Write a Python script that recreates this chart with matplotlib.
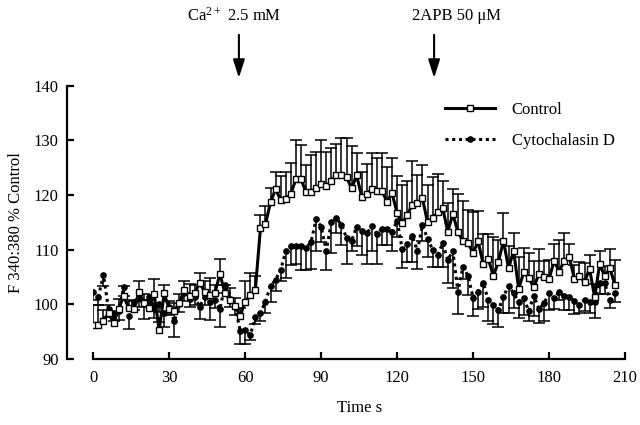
import matplotlib
matplotlib.use('Agg')
import matplotlib.pyplot as plt
import numpy as np
from matplotlib.lines import Line2D

plt.rcParams['font.family'] = ['Liberation Serif', 'DejaVu Serif']
plt.rcParams['mathtext.fontset'] = 'custom'
plt.rcParams['mathtext.rm'] = 'Liberation Serif'
plt.rcParams['mathtext.default'] = 'regular'

# time axis, one sample every 2 s
time_s = np.arange(0, 208, 2)

control = [96.3, 96.3, 97.0, 98.4, 96.6, 99.1, 101.6, 99.3, 99.1, 102.2,
           100.3, 99.3, 101.9, 95.3, 102.0, 99.1, 98.8, 100.3, 102.7, 101.5,
           102.0, 103.9, 102.3, 101.7, 102.0, 105.6, 102.0, 100.8, 99.7, 97.9,
           100.5, 101.7, 102.7, 113.9, 114.7, 118.7, 121.1, 119.1, 119.3, 120.2,
           122.9, 122.9, 120.6, 120.6, 121.2, 122.0, 121.6, 122.6, 123.7, 123.7,
           123.3, 121.2, 123.6, 119.7, 120.2, 121.1, 120.7, 120.7, 118.8, 120.3,
           116.7, 114.8, 116.4, 118.2, 118.5, 119.4, 115.0, 115.8, 116.8, 117.6,
           113.3, 116.5, 113.3, 111.5, 111.2, 109.4, 111.5, 107.3, 108.3, 105.2,
           107.8, 111.6, 106.6, 109.8, 102.8, 105.9, 104.8, 103.1, 105.6, 105.0,
           104.6, 108.0, 106.0, 108.0, 108.6, 104.7, 105.2, 104.1, 106.5, 101.3,
           107.4, 105.1, 106.6, 103.6]
control_err = [3.6, 3.5, 2.0, 1.5, 2.0, 1.9, 1.8, 1.5, 1.5, 2.0,
               1.5, 1.5, 2.8, 1.5, 1.6, 1.5, 1.5, 1.5, 1.5, 2.2,
               1.5, 1.9, 2.0, 3.2, 1.5, 2.7, 1.5, 2.2, 1.5, 1.5,
               3.8, 4.1, 2.5, 2.5, 3.3, 2.5, 3.2, 4.4, 4.9, 5.6,
               7.2, 6.3, 4.8, 6.7, 6.7, 8.1, 6.3, 6.0, 5.6, 6.8,
               7.1, 7.8, 4.0, 4.5, 5.4, 6.5, 6.0, 6.9, 6.4, 6.5,
               6.7, 7.0, 6.1, 8.0, 5.2, 6.0, 6.8, 7.5, 7.1, 4.9,
               5.2, 4.6, 6.9, 7.4, 6.0, 7.4, 5.5, 5.6, 4.6, 7.2,
               4.0, 5.1, 4.0, 3.3, 5.8, 4.4, 4.5, 4.9, 4.5, 3.0,
               3.5, 3.0, 5.7, 5.1, 2.5, 2.5, 2.5, 3.5, 2.6, 2.5,
               2.4, 2.0, 3.5, 4.5]

cytochalasin = [102.3, 101.4, 105.4, 99.1, 98.4, 98.7, 103.1, 97.8, 100.5, 101.1,
                100.0, 101.4, 99.5, 100.1, 98.4, 99.5, 96.9, 100.1, 102.1, 101.0,
                101.3, 99.6, 101.3, 100.5, 100.8, 99.1, 103.6, 101.0, 99.6, 95.2,
                95.3, 94.4, 97.6, 98.5, 100.5, 103.4, 104.5, 106.3, 109.7, 110.6,
                110.6, 110.6, 110.3, 111.4, 115.6, 114.2, 109.8, 115.0, 115.8, 114.5,
                112.2, 111.6, 114.2, 113.4, 113.0, 114.3, 112.9, 113.8, 113.8, 113.3,
                115.3, 110.1, 111.1, 112.5, 109.8, 114.5, 112.0, 110.0, 109.0, 111.2,
                108.1, 109.8, 102.3, 106.9, 105.2, 101.2, 102.3, 103.9, 100.8, 99.9,
                99.0, 101.4, 103.4, 102.0, 100.5, 101.1, 98.8, 101.6, 99.1, 100.2,
                102.0, 101.1, 102.3, 101.5, 101.4, 100.6, 99.9, 100.8, 100.5, 100.5,
                103.9, 103.9, 100.8, 102.0]
cytochalasin_err = [1.5, 1.5, 2.0, 1.5, 1.5, 1.5, 1.5, 2.3, 1.5, 1.5,
                    2.6, 1.5, 2.0, 1.5, 2.5, 1.5, 2.8, 1.5, 1.5, 1.5,
                    1.5, 2.3, 1.5, 3.4, 1.5, 3.3, 1.5, 1.5, 1.5, 2.5,
                    2.5, 1.0, 1.2, 1.6, 2.0, 2.9, 2.0, 2.1, 4.9, 3.4,
                    3.3, 4.3, 4.0, 5.0, 5.9, 2.8, 3.6, 5.6, 2.8, 3.7,
                    4.8, 1.9, 3.6, 4.4, 5.6, 4.6, 5.6, 2.9, 2.9, 3.6,
                    3.0, 3.5, 3.3, 4.7, 3.3, 3.0, 3.3, 3.1, 2.2, 4.3,
                    4.2, 6.8, 4.0, 2.2, 3.5, 3.3, 3.2, 4.3, 3.8, 3.5,
                    3.2, 3.0, 4.9, 2.6, 3.0, 3.0, 1.9, 3.8, 2.5, 3.3,
                    3.0, 2.0, 1.5, 2.5, 2.5, 2.3, 1.5, 2.0, 2.0, 3.0,
                    2.0, 2.0, 1.5, 1.5]

ctrl = np.array(control)
ctrl_e = np.array(control_err)
cyto = np.array(cytochalasin)
cyto_e = np.array(cytochalasin_err)

fig = plt.figure(figsize=(6.4, 4.25), dpi=100)
ax = fig.add_axes([0.1458, 0.1553, 0.8308, 0.6431])

# Cytochalasin D: dotted line, filled dots, error bars downward
ax.vlines(time_s, cyto - cyto_e, cyto, color='black', lw=1.1, zorder=2)
ax.plot(time_s, cyto - cyto_e, ls='none', marker='_', ms=8, mew=1.1, color='black', zorder=2)
ax.plot(time_s, cyto, ls=(0, (1, 1.2)), lw=2.2, color='black', marker='o', ms=3.8,
        mfc='black', mec='black', zorder=3)

# Control: solid line, open squares, error bars upward
ax.vlines(time_s, ctrl, ctrl + ctrl_e, color='black', lw=1.1, zorder=4)
ax.plot(time_s, ctrl + ctrl_e, ls='none', marker='_', ms=8, mew=1.1, color='black', zorder=4)
ax.plot(time_s, ctrl, ls='-', lw=2.2, color='black', marker='s', ms=5,
        mfc='white', mec='black', mew=1.0, zorder=5)

ax.set_xlim(0, 210)
ax.set_ylim(90, 140)
ax.set_xticks(range(0, 211, 30))
ax.set_yticks(range(90, 141, 10))

for side in ['top', 'right']:
    ax.spines[side].set_visible(False)
ax.spines['left'].set_position(('outward', 19))
ax.spines['left'].set_linewidth(1.6)
ax.spines['bottom'].set_linewidth(1.6)
ax.tick_params(axis='both', direction='in', length=5, width=1.6, labelsize=12)
ax.tick_params(axis='y', pad=6)
ax.tick_params(axis='x', pad=8)

ax.set_xlabel('Time s', fontsize=12, labelpad=10)
ax.set_ylabel('F 340:380 % Control', fontsize=12, labelpad=7)

# legend
handles = [
    Line2D([], [], color='black', lw=2.2, marker='s', ms=5, mfc='white', mec='black'),
    Line2D([], [], color='black', lw=2.2, ls=(0, (1, 1.2)), marker='o', ms=3.8),
]
ax.legend(handles, ['Control', 'Cytochalasin D'], loc='upper left',
          bbox_to_anchor=(0.685, 0.775), bbox_transform=fig.transFigure,
          frameon=False, fontsize=12, handlelength=3.0, handletextpad=1.0,
          labelspacing=0.9, borderaxespad=0)

# stimulus arrows
arrow_kw = dict(arrowstyle='-|>,head_length=1.1,head_width=0.35', lw=1.5, color='black',
                shrinkA=0, shrinkB=0)
ax.annotate('', xy=(57.5, 0.8165), xytext=(57.5, 0.918),
            xycoords=('data', 'figure fraction'), textcoords=('data', 'figure fraction'),
            arrowprops=arrow_kw)
ax.annotate('', xy=(134.6, 0.8165), xytext=(134.6, 0.918),
            xycoords=('data', 'figure fraction'), textcoords=('data', 'figure fraction'),
            arrowprops=arrow_kw)
fig.text(234 / 640, 1 - 16 / 425, 'Ca$^{2+}$ 2.5 mM', ha='center', va='center', fontsize=12)
fig.text(456 / 640, 1 - 16 / 425, '2APB 50 μM', ha='center', va='center', fontsize=12)

fig.savefig('out.png', dpi=100)
